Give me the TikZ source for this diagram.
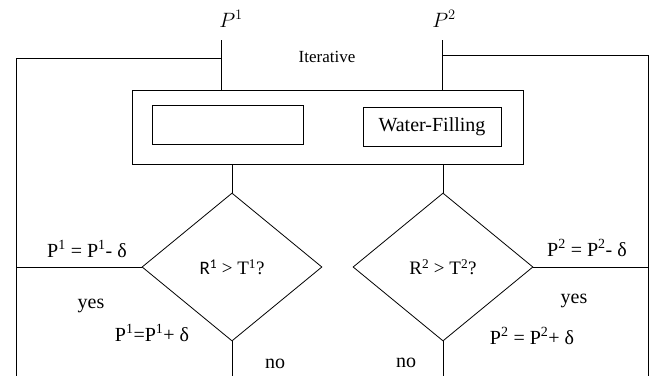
\documentclass[tikz,border=0pt]{standalone}
\usepackage{fontspec}
\setmainfont{Liberation Serif}
\newfontfamily\calfont{Carlito}
\usetikzlibrary{shapes.geometric,positioning}

\begin{document}
\begin{tikzpicture}[
      x=1pt, y=-1pt,
      line width=1pt,
      every node/.style={font=\fontsize{20}{23}\selectfont},
      box/.style={rectangle, draw, inner sep=0pt},
      test/.style={diamond, draw, line width=0.8pt, inner sep=0pt,
      minimum width=180pt, minimum height=148pt,
      font=\fontsize{19}{22}\selectfont},
      lbl/.style={inner sep=1pt}]
    \useasboundingbox (0,0) rectangle (657,376);
    % inputs
    \node[lbl, font=\fontsize{22}{24}\selectfont] (p1) at (231,19) {$P^1$};
    \node[lbl, font=\fontsize{22}{24}\selectfont] (p2) at (444,19) {$P^2$};
    \coordinate (p1t) at (221,40);
    \coordinate (p2t) at (442,40);
    % main block
    \node[box, minimum width=391pt, minimum height=74pt] (outer) at (327.5,127) {};
    \node[box, minimum width=151pt, minimum height=39pt] (inl) at (227.5,124.5) {};
    \node[box, minimum width=138pt, minimum height=39pt] (inr) at (432,126.5) {Water-Filling};
    \node[lbl, font=\fontsize{17}{20}\selectfont] (iter) at (327,57) {Iterative};
    % decisions
    \node[test] (d1) at (232,267) {{\calfont R\textsuperscript{1}} > T\textsuperscript{1}?};
    \node[test] (d2) at (443,267) {R\textsuperscript{2} > T\textsuperscript{2}?};
    % loop corners
    \coordinate (lt) at (16,58);
    \coordinate (lb) at (16,376);
    \coordinate (rt) at (648,55);
    \coordinate (rb) at (648,376);
    % connectors
    \draw (p1t) -- (p1t |- outer.north);
    \draw (p2t) -- (p2t |- outer.north);
    \draw (p1t |- lt) -- (lt) -- (lb);
    \draw (p2t |- rt) -- (rt) -- (rb);
    \draw (d1.north |- outer.south) -- (d1.north);
    \draw (d2.north |- outer.south) -- (d2.north);
    \draw (d1.west) -- (d1.west -| lb);
    \draw (d2.east) -- (d2.east -| rb);
    \draw (d1.south) -- (d1.south |- lb);
    \draw (d2.south) -- (d2.south |- rb);
    % branch labels
    \node[lbl] (dec1) at (87,249) {P\textsuperscript{1} = P\textsuperscript{1}- δ};
    \node[lbl] (yes1) at (91,306) {yes};
    \node[lbl] (inc1) at (152,333) {P\textsuperscript{1}=P\textsuperscript{1}+ δ};
    \node[lbl] (no1) at (275,364) {no};
    \node[lbl] (dec2) at (587,248) {P\textsuperscript{2} = P\textsuperscript{2}- δ};
    \node[lbl] (yes2) at (574,301) {yes};
    \node[lbl] (inc2) at (532,336) {P\textsuperscript{2} = P\textsuperscript{2}+ δ};
    \node[lbl] (no2) at (406,363) {no};
\end{tikzpicture}
\end{document}
